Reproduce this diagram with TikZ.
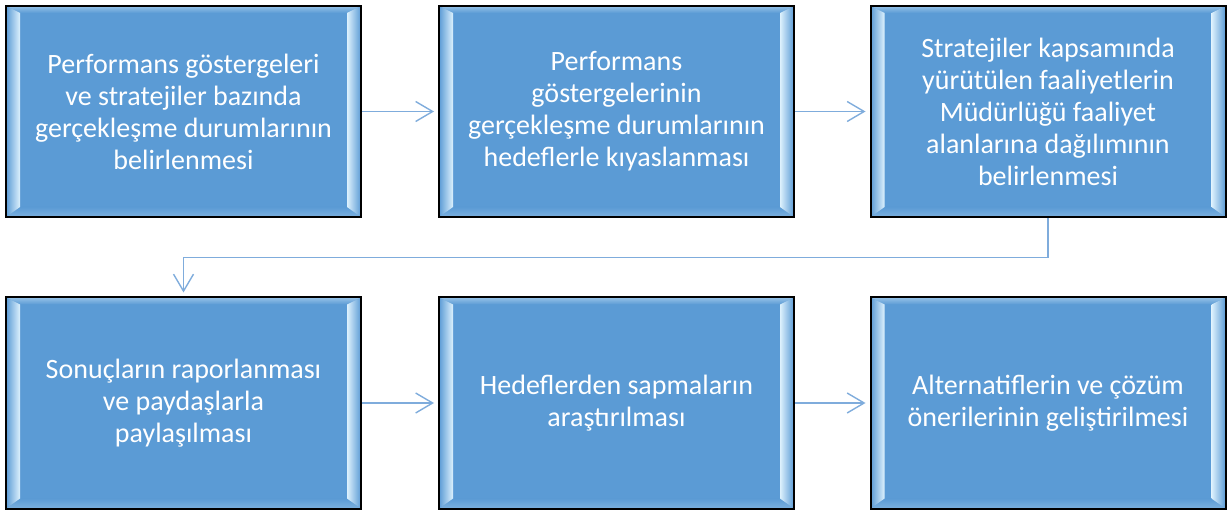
\documentclass[tikz,border=0pt]{standalone}
\usepackage{fontspec}
\setmainfont{Carlito}
\usetikzlibrary{calc,arrows.meta}

\definecolor{stageblue}{HTML}{5B9BD5}
\definecolor{bevellight}{HTML}{DDF1FD}
\definecolor{flowline}{HTML}{7FACDC}

\tikzset{
  stage/.style={draw=black, line width=2pt, fill=stageblue, text=white,
    minimum width=355pt, minimum height=211pt, inner sep=0pt, align=center,
    font=\fontsize{28}{32}\selectfont,
    path picture={
      \path (path picture bounding box.north west) coordinate (pNW)
            (path picture bounding box.north east) coordinate (pNE)
            (path picture bounding box.south west) coordinate (pSW)
            (path picture bounding box.south east) coordinate (pSE);
      %% bevel strips
      \shade[top color=stageblue!55!bevellight, bottom color=stageblue]
        (pNW) -- (pNE) -- ([shift={(-14pt,-7pt)}]pNE) -- ([shift={(14pt,-7pt)}]pNW) -- cycle;
      \shade[top color=stageblue, bottom color=stageblue!75!bevellight]
        (pSW) -- (pSE) -- ([shift={(-14pt,10pt)}]pSE) -- ([shift={(14pt,10pt)}]pSW) -- cycle;
      \shade[left color=stageblue, right color=bevellight]
        (pNW) -- ([shift={(14pt,-7pt)}]pNW) -- ([shift={(14pt,10pt)}]pSW) -- (pSW) -- cycle;
      \shade[left color=bevellight, right color=stageblue]
        (pNE) -- ([shift={(-14pt,-7pt)}]pNE) -- ([shift={(-14pt,10pt)}]pSE) -- (pSE) -- cycle;
    }},
  flow/.style={draw=flowline, line width=1.4pt, shorten >=4pt,
    -{Straight Barb[length=17pt,width=20pt,line width=1.4pt]}}
}

\begin{document}
\begin{tikzpicture}[x=1pt,y=-1pt]
  \useasboundingbox (0,0) rectangle (1227,513);

  %% First row
  \node[stage] (S1) at (183.5,111.5)
    {Performans göstergeleri\\ve stratejiler bazında\\gerçekleşme durumlarının\\belirlenmesi};
  \node[stage] (S2) at (616.5,111.5)
    {Performans\\göstergelerinin\\gerçekleşme durumlarının\\hedeflerle kıyaslanması};
  \node[stage] (S3) at (1048,111.5)
    {Stratejiler kapsamında\\yürütülen faaliyetlerin\\Müdürlüğü faaliyet\\alanlarına dağılımının\\belirlenmesi};

  %% Second row
  \node[stage] (S4) at (183.5,403)
    {Sonuçların raporlanması\\ve paydaşlarla\\paylaşılması};
  \node[stage] (S5) at (616.5,403)
    {Hedeflerden sapmaların\\araştırılması};
  \node[stage] (S6) at (1048,403)
    {Alternatiflerin ve çözüm\\önerilerinin geliştirilmesi};

  %% Connectors
  \foreach \a/\b in {S1/S2,S2/S3,S4/S5,S5/S6}
  {
    \draw[flow] (\a) -- (\b);
  }
  \coordinate (MID) at ($(S3.south)!0.5!(S6.north)$);
  \draw[flow] (S3.south) -- (MID) -| (S4.north);
\end{tikzpicture}
\end{document}
